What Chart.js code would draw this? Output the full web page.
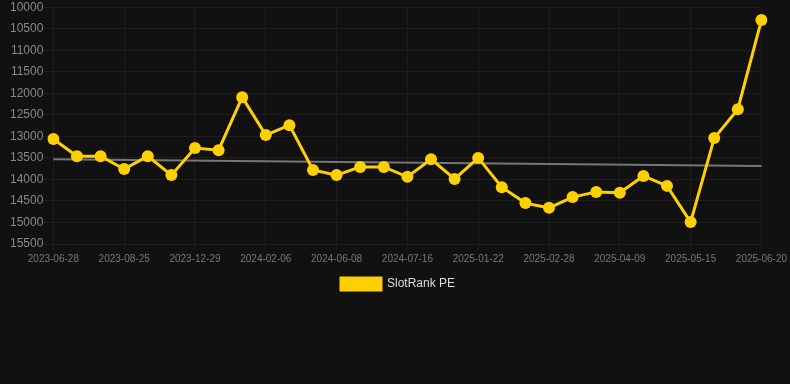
<!DOCTYPE html>
<html>
<head>
    <title>SlotRank PE</title>
    <script src="https://cdn.jsdelivr.net/npm/chart.js"></script>
    <style>
        body { margin: 0; background: #111111; }
        #wrap { width: 790px; height: 384px; position: relative; }
    </style>
</head>
<body>
    <div id="wrap"><canvas id="myChart"></canvas></div>
    <script>
        var ctx = document.getElementById('myChart').getContext('2d');

        // dates (only every 3rd one is shown on the axis)
        var labels = [
            "2023-06-28", "2023-07-12", "2023-07-29", "2023-08-25", "2023-09-20", "2023-10-18",
            "2023-12-29", "2024-01-10", "2024-01-24", "2024-02-06", "2024-03-15", "2024-05-02",
            "2024-06-08", "2024-06-20", "2024-07-02", "2024-07-16", "2024-09-10", "2024-11-20",
            "2025-01-22", "2025-02-04", "2025-02-16", "2025-02-28", "2025-03-14", "2025-03-27",
            "2025-04-09", "2025-04-22", "2025-05-03", "2025-05-15", "2025-05-27", "2025-06-08",
            "2025-06-20"
        ];

        var rankValues = [
            13060, 13460, 13460, 13760, 13460, 13900,
            13270, 13320, 12090, 12970, 12740, 13780,
            13900, 13710, 13710, 13940, 13530, 13990,
            13500, 14180, 14550, 14660, 14410, 14290,
            14310, 13920, 14150, 14990, 13040, 12370,
            10300
        ];

        // trend line end points
        var trendStart = 13530;
        var trendEnd = 13690;
        var trendValues = labels.map(function (l, i) {
            if (i === 0) return trendStart;
            if (i === labels.length - 1) return trendEnd;
            return null;
        });

        var yMin = 10000, yMax = 15500, yStep = 500;
        var font = 'Arial, "Liberation Sans", sans-serif';

        new Chart(ctx, {
            type: 'line',
            data: {
                labels: labels,
                datasets: [{
                    label: 'SlotRank PE',
                    data: rankValues,
                    borderColor: '#FFD000',
                    backgroundColor: '#FFD000',
                    borderWidth: 3,
                    pointRadius: 6,
                    pointHoverRadius: 6,
                    pointBackgroundColor: '#FFD000',
                    pointBorderWidth: 0,
                    tension: 0
                }, {
                    label: 'trend',
                    data: trendValues,
                    borderColor: '#777777',
                    borderWidth: 2,
                    pointRadius: 0,
                    spanGaps: true,
                    fill: false
                }]
            },
            options: {
                responsive: true,
                maintainAspectRatio: false,
                animation: false,
                layout: { padding: { top: 0, right: 4, bottom: 84, left: 10 } },
                plugins: {
                    legend: {
                        position: 'bottom',
                        labels: {
                            color: '#dddddd',
                            boxWidth: 40,
                            boxHeight: 12,
                            font: { family: font, size: 12 },
                            filter: function (item) { return item.text !== 'trend'; }
                        }
                    },
                    tooltip: { enabled: false }
                },
                scales: {
                    x: {
                        grid: {
                            color: function (c) { return c.index % 3 === 0 ? '#1e1e1e' : 'rgba(0,0,0,0)'; },
                            tickLength: 6
                        },
                        border: { color: '#1e1e1e' },
                        ticks: {
                            color: '#777777',
                            autoSkip: false,
                            maxRotation: 0,
                            font: { family: font, size: 10 },
                            callback: function (v, i) { return i % 3 === 0 ? labels[i] : ''; }
                        }
                    },
                    y: {
                        reverse: true,
                        min: yMin,
                        max: yMax,
                        grid: { color: '#1e1e1e', drawTicks: true, tickLength: 10 },
                        border: { display: false },
                        ticks: {
                            stepSize: yStep,
                            color: '#888888',
                            padding: 0,
                            font: { family: font, size: 12 },
                            callback: function (v) { return String(v); }
                        }
                    }
                }
            }
        });
    </script>
</body>
</html>
